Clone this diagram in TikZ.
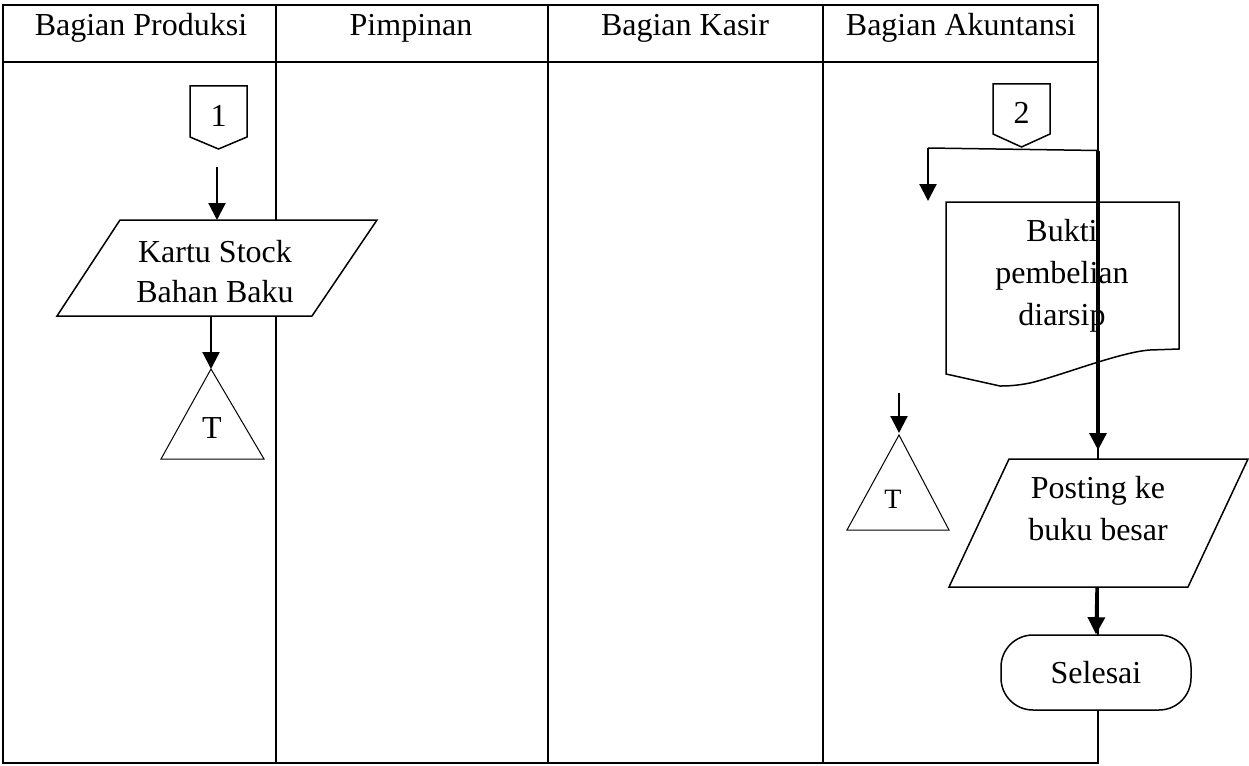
\documentclass[tikz,border=0pt]{standalone}
\usepackage{fontspec}
\setmainfont{Liberation Serif}
\usetikzlibrary{arrows.meta}
\begin{document}
\begin{tikzpicture}[x=1pt,y=-1pt,
  txt/.style={font=\fontsize{32}{38}\selectfont, inner sep=0pt, anchor=base},
  border/.style={line width=2pt},
  shp/.style={line width=1.5pt, fill=white},
  tri/.style={line width=1pt},
  flow/.style={line width=2.2pt, -{Triangle[length=17pt,width=17pt]}},
  flowthick/.style={line width=3.3pt, -{Triangle[length=17pt,width=17pt]}},
  thinline/.style={line width=1.5pt}]
\useasboundingbox (0,0) rectangle (1249,765);
% table
\draw[border] (3,5) rectangle (1098,763);
\draw[border] (3,62) -- (1098,62);
\draw[border] (275.5,5) -- (275.5,763);
\draw[border] (548,5) -- (548,763);
\draw[border] (823,5) -- (823,763);
% headers
\node[txt] (h1) at (141,36) {Bagian Produksi};
\node[txt] (h2) at (411,36) {Pimpinan};
\node[txt] (h3) at (685,36) {Bagian Kasir};
\node[txt] (h4) at (961,36) {Bagian Akuntansi};
% --- Bagian Produksi ---
\draw[shp] (190,86) -- (247,86) -- (247,137) -- (218.5,149) -- (190,137) -- cycle;
\node[txt] (c1) at (218.5,127) {1};
\coordinate (c1b) at (217,167);
\coordinate (k1t) at (217,220);
\draw[shp] (120,220) -- (377,220) -- (312,316) -- (57,316) -- cycle;
\node[txt] (k1) at (215,262) {Kartu Stock};
\node[txt] (k2) at (215,302) {Bahan Baku};
\coordinate (k1b) at (211,316);
\draw[tri] (211,369) -- (264,459) -- (161,459) -- cycle;
\coordinate (t1a) at (211,369);
\node[txt] (t1) at (212,438) {T};
\draw[flow] (c1b) -- (k1t);
\draw[flow] (k1b) -- (t1a);
% --- Bagian Akuntansi ---
\draw[shp] (993,84) -- (1050,84) -- (1050,134) -- (1021.5,147) -- (993,134) -- cycle;
\node[txt] (c2) at (1021.5,123.5) {2};
\coordinate (j1) at (928,148);
\coordinate (j2) at (1098,150.5);
\coordinate (j3) at (928,201);
\draw[thinline] (j1) -- (j2);
\draw[flow] (j1) -- (j3);
% document
\draw[line width=1.5pt] (946,202) -- (1179,202) -- (1179,349) -- (1150,350)
  .. controls (1120,352) and (1060,376) .. (1030,383)
  .. controls (1015,386) and (1005,386) .. (1000,386) -- (946,374) -- cycle;
\node[txt] (d1) at (1062,241.5) {Bukti};
\node[txt] (d2) at (1062,283) {pembelian};
\node[txt] (d3) at (1062,325) {diarsip};
% right triangle
\coordinate (a2) at (899,393);
\draw[tri] (899,435) -- (949,530) -- (847,530) -- cycle;
\coordinate (t2a) at (899,433);
\node[txt, font=\fontsize{28}{34}\selectfont] (t2) at (893,508) {T};
\draw[flow] (a2) -- (t2a);
% posting
\draw[shp] (1009,459) -- (1248,459) -- (1188,587) -- (949,587) -- cycle;
\coordinate (pt) at (1098,459);
\coordinate (pb) at (1097,587);
\node[txt] (p1) at (1098,498) {Posting ke};
\node[txt] (p2) at (1098,540) {buku besar};
\draw[flowthick, shorten >=9pt] (j2) -- (pt);
% selesai
\node[draw, line width=1.5pt, fill=white, rounded corners=32pt, minimum width=190pt, minimum height=75pt, inner sep=0pt] (sel) at (1096,672.5) {};
\node[txt] (selt) at (1096,683) {Selesai};
\draw[flowthick] (pb) -- (sel.north);
\end{tikzpicture}
\end{document}
